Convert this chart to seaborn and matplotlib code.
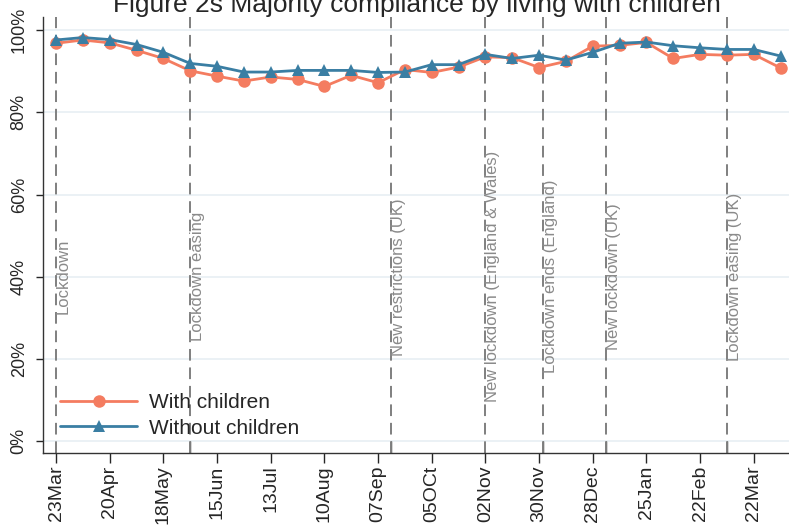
import pandas as pd
import numpy as np
import matplotlib.pyplot as plt
import matplotlib.dates as mdates
import seaborn as sns

dates = ["2020-03-23", "2020-04-06", "2020-04-20", "2020-05-04", "2020-05-18", "2020-06-01",
         "2020-06-15", "2020-06-29", "2020-07-13", "2020-07-27", "2020-08-10", "2020-08-24",
         "2020-09-07", "2020-09-21", "2020-10-05", "2020-10-19", "2020-11-02", "2020-11-16",
         "2020-11-30", "2020-12-14", "2020-12-28", "2021-01-11", "2021-01-25", "2021-02-08",
         "2021-02-22", "2021-03-08", "2021-03-22", "2021-04-05"]
with_children = [96.8, 97.6, 96.9, 95.1, 93.1, 90.1, 88.8, 87.6, 88.6, 88.0, 86.3, 89.0, 87.2, 90.4,
                 89.7, 91.0, 93.5, 93.3, 90.9, 92.4, 96.1, 96.3, 97.0, 93.1, 94.1, 93.9, 94.1, 90.8]
without_children = [97.6, 98.2, 97.7, 96.5, 94.6, 91.9, 91.2, 89.8, 89.8, 90.2, 90.2, 90.2, 89.7, 89.8,
                    91.6, 91.6, 94.1, 93.1, 93.9, 92.7, 94.6, 96.8, 97.1, 96.2, 95.7, 95.3, 95.3, 93.7]

event_dates = ["2020-03-23", "2020-06-01", "2020-09-14", "2020-11-02", "2020-12-02", "2021-01-04", "2021-03-08"]
event_labels = ["Lockdown", "Lockdown easing", "New restrictions (UK)", "New lockdown (England & Wales)",
                "Lockdown ends (England)", "New lockdown (UK)", "Lockdown easing (UK)"]

tick_dates = ["2020-03-23", "2020-04-20", "2020-05-18", "2020-06-15", "2020-07-13", "2020-08-10",
              "2020-09-07", "2020-10-05", "2020-11-02", "2020-11-30", "2020-12-28", "2021-01-25",
              "2021-02-22", "2021-03-22"]
tick_labels = ["23Mar", "20Apr", "18May", "15Jun", "13Jul", "10Aug", "07Sep", "05OCt", "02Nov",
               "30Nov", "28Dec", "25Jan", "22Feb", "22Mar"]
y_ticks = [0, 20, 40, 60, 80, 100]
y_labels = ["0%", "20%", "40%", "60%", "80%", "100%"]

sns.set_style("white")
plt.rcParams['font.family'] = ['Liberation Sans', 'DejaVu Sans']

df = pd.DataFrame({"date": pd.to_datetime(dates),
                   "with": with_children,
                   "without": without_children})

fig = plt.figure(figsize=(7.89, 5.29), dpi=100)
ax = fig.add_axes([0.0545, 0.1437, 0.9455, 0.8242])

ax.set_ylim(-2.9, 103.2)
x0 = pd.Timestamp("2020-03-23")
ax.set_xlim(x0 - pd.Timedelta(days=6.8), x0 + pd.Timedelta(days=382.4))

for v in y_ticks:
    ax.axhline(v, color="#e8eff3", lw=1.2, zorder=0)

for d, lab in zip(event_dates, event_labels):
    d = pd.Timestamp(d)
    ax.axvline(d, color="#7f7f7f", lw=1.4, dashes=(6, 3.5), zorder=1)
    ax.text(d, 40, lab, rotation=90, ha="left", va="center", fontsize=12,
            color="#8a8a8a", zorder=2)

sns.lineplot(data=df, x="date", y="with", ax=ax, color="#f47c60", lw=2,
             marker="o", markersize=9, markeredgewidth=0, label="With children", zorder=3)
sns.lineplot(data=df, x="date", y="without", ax=ax, color="#3a7ea3", lw=2,
             marker="^", markersize=9, markeredgewidth=0, label="Without children", zorder=4)

ax.set_xticks(pd.to_datetime(tick_dates))
ax.set_xticklabels(tick_labels, rotation=90, fontsize=14)
ax.set_xticks(pd.to_datetime(event_dates[1:]), minor=True)
ax.tick_params(axis="x", which="major", direction="out", length=7, width=1, pad=2, bottom=True)
ax.tick_params(axis="x", which="minor", direction="in", length=9, width=1, bottom=True)

ax.set_yticks(y_ticks)
ax.set_yticklabels(y_labels, rotation=90, va="center", fontsize=13)
ax.tick_params(axis="y", direction="out", length=5, width=1, pad=6, left=True)

ax.set_xlabel("")
ax.set_ylabel("")
for s in ["top", "right"]:
    ax.spines[s].set_visible(False)
for s in ["left", "bottom"]:
    ax.spines[s].set_color("#333333")
    ax.spines[s].set_linewidth(1)

ax.legend(loc="lower left", bbox_to_anchor=(0.023, 0.035), frameon=False, fontsize=15,
          handlelength=3.7, handletextpad=0.55, labelspacing=0.3, borderpad=0, borderaxespad=0)

fig.text(0.528, 1 - 12 / 529, "Figure 2s Majority compliance by living with children",
         ha="center", va="baseline", fontsize=19)

fig.savefig("out.png", dpi=100)
